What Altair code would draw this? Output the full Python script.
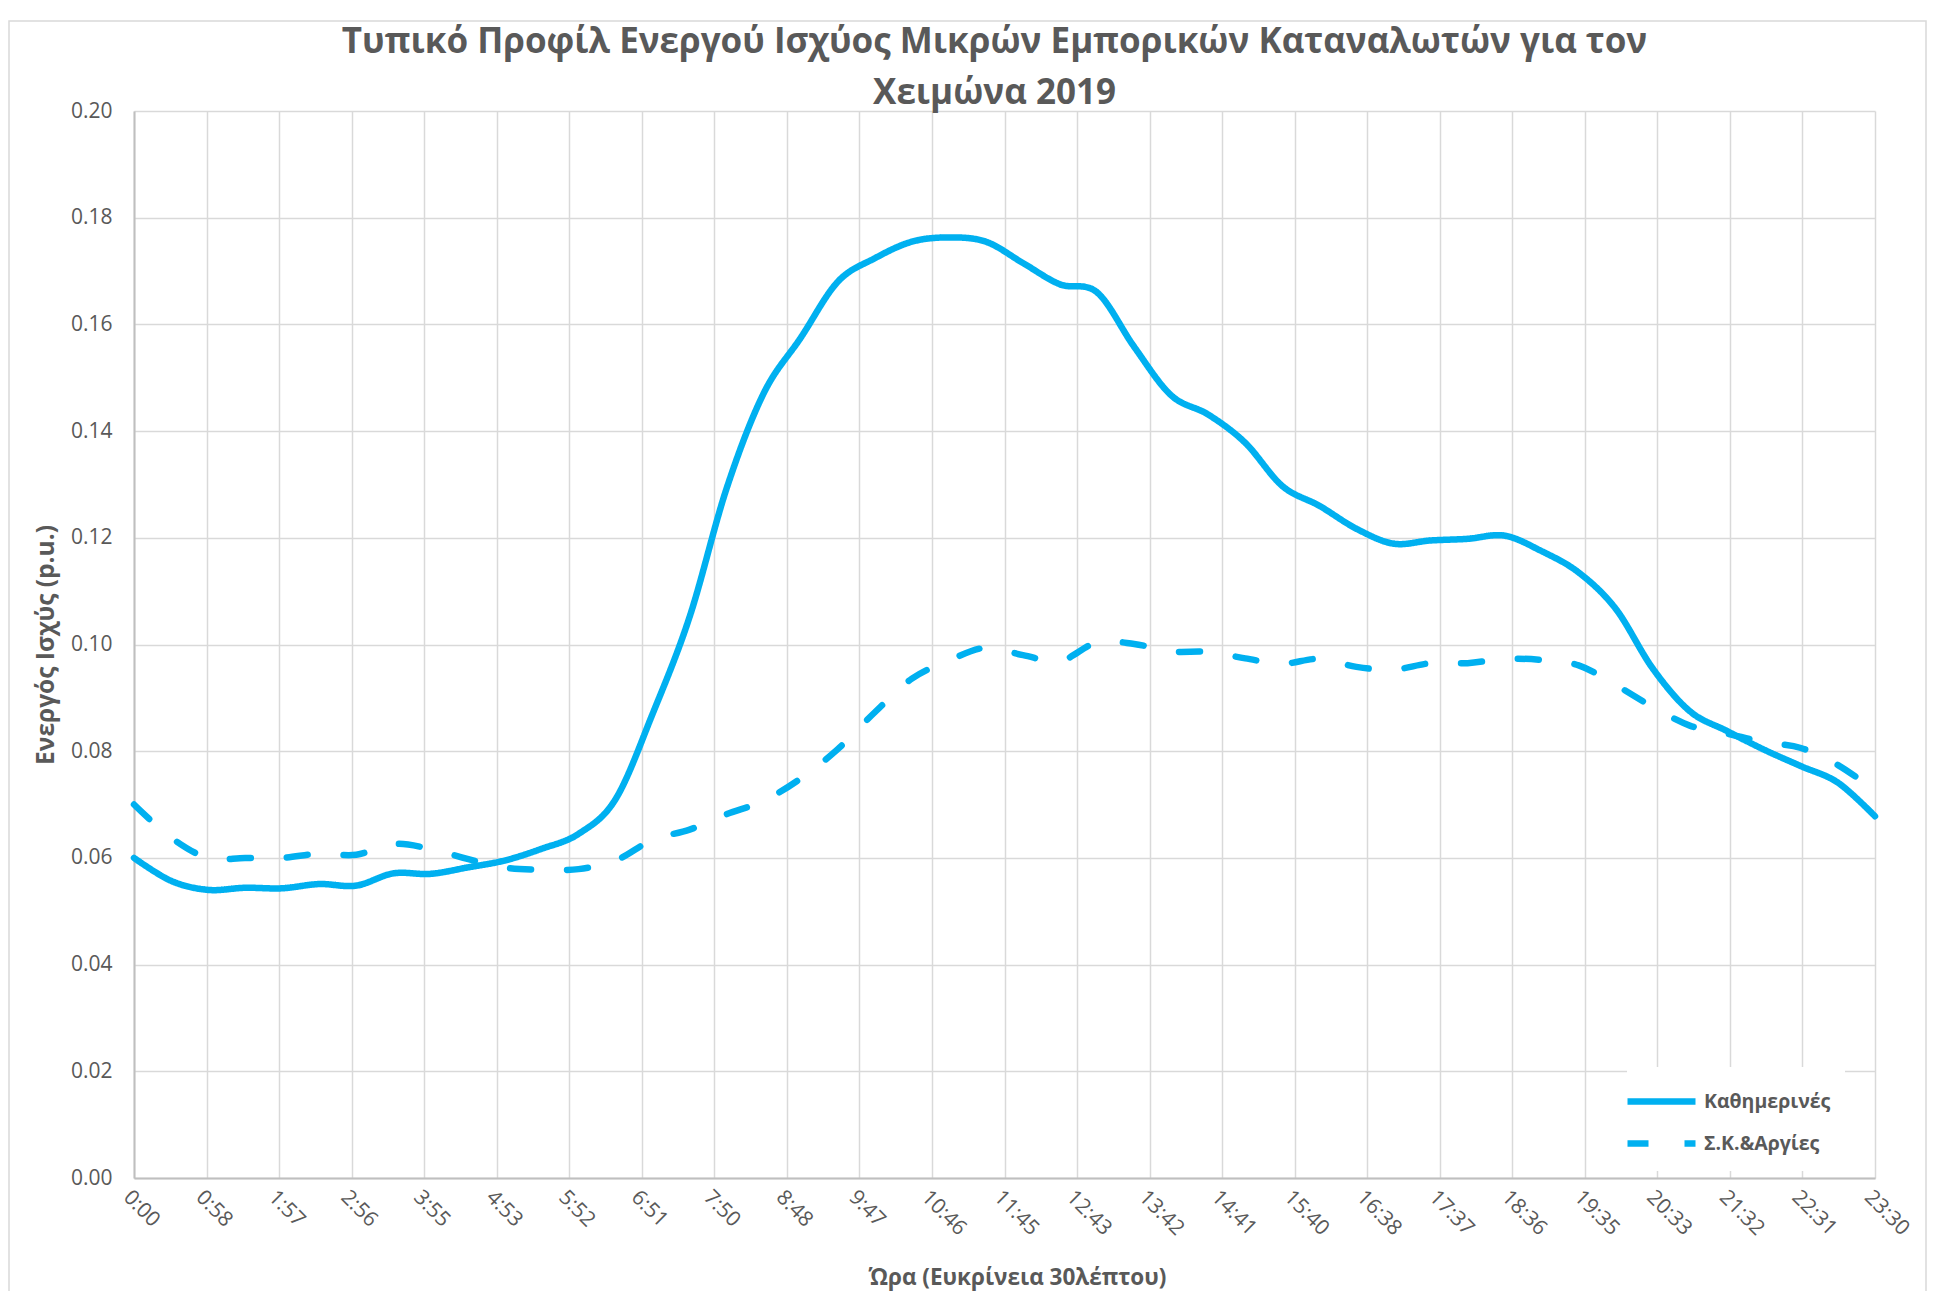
import altair as alt
import pandas as pd

# ---------------- data ----------------
TIMES = [f"{h}:{m:02d}" for h in range(24) for m in (0, 30)]

WEEKDAY = [
    0.0600, 0.0557, 0.0540, 0.0544, 0.0543, 0.0551, 0.0548, 0.0571,
    0.0570, 0.0582, 0.0595, 0.0617, 0.0645, 0.0710, 0.0870, 0.1052,
    0.1293, 0.1471, 0.1575, 0.1680, 0.1724, 0.1755, 0.1763, 0.1755,
    0.1715, 0.1675, 0.1660, 0.1558, 0.1467, 0.1431, 0.1378, 0.1297,
    0.1260, 0.1217, 0.1189, 0.1195, 0.1198, 0.1204, 0.1175, 0.1135,
    0.1067, 0.0955, 0.0875, 0.0838, 0.0803, 0.0772, 0.0741, 0.0678,
]

WEEKEND = [
    0.0700, 0.0638, 0.0600, 0.0600, 0.0600, 0.0608, 0.0606, 0.0626,
    0.0617, 0.0598, 0.0582, 0.0578, 0.0579, 0.0595, 0.0634, 0.0653,
    0.0682, 0.0707, 0.0749, 0.0804, 0.0873, 0.0936, 0.0970, 0.0994,
    0.0980, 0.0969, 0.1004, 0.1001, 0.0987, 0.0986, 0.0974, 0.0964,
    0.0973, 0.0958, 0.0953, 0.0965, 0.0965, 0.0973, 0.0971, 0.0961,
    0.0924, 0.0883, 0.0848, 0.0833, 0.0817, 0.0806, 0.0774, 0.0726,
]

SERIES = ["Καθημερινές", "Σ.Κ.&Αργίες"]

X_TICK_LABELS = [
    "0:00", "0:58", "1:57", "2:56", "3:55", "4:53", "5:52", "6:51", "7:50",
    "8:48", "9:47", "10:46", "11:45", "12:43", "13:42", "14:41", "15:40",
    "16:38", "17:37", "18:36", "19:35", "20:33", "21:32", "22:31", "23:30",
]
Y_TICKS = [0.00, 0.02, 0.04, 0.06, 0.08, 0.10, 0.12, 0.14, 0.16, 0.18, 0.20]

TITLE_LINES = [
    "Τυπικό Προφίλ Ενεργού Ισχύος Μικρών Εμπορικών Καταναλωτών για τον",
    "Χειμώνα 2019",
]
X_TITLE = "Ώρα (Ευκρίνεια 30λέπτου)"
Y_TITLE = "Ενεργός Ισχύς (p.u.)"

# ---------------- table ----------------
def to_min(t):
    h, m = t.split(":")
    return int(h) * 60 + int(m)

rows = []
for name, vals in zip(SERIES, [WEEKDAY, WEEKEND]):
    for t, v in zip(TIMES, vals):
        rows.append({"minute": to_min(t), "value": v, "series": name})
df = pd.DataFrame(rows)

X_MAX = to_min(TIMES[-1])
STEP = X_MAX / (len(X_TICK_LABELS) - 1)
x_tick_values = [i * STEP for i in range(len(X_TICK_LABELS))]
label_expr = "[" + ",".join(f"'{s}'" for s in X_TICK_LABELS) + f"][round(datum.value / {STEP})]"

W, H = 1741, 1067
FONT = "Open Sans"
TXT = "#595959"
BLUE = "#00B0F0"

# ---------------- layers ----------------
frame = alt.Chart(alt.Data(values=[{}])).mark_rect(
    fillOpacity=0, stroke="#d9d9d9", strokeWidth=1.5, clip=False
).encode(
    x=alt.value(-125), x2=alt.value(1792), y=alt.value(-90), y2=alt.value(1200)
)

title = alt.Chart(alt.Data(values=[{}])).mark_text(
    text=TITLE_LINES, font=FONT, fontSize=35, fontWeight="bold", color=TXT,
    align="center", baseline="alphabetic", lineHeight=51,
).encode(x=alt.value(W / 2 - 10), y=alt.value(-58))

legend_kw = dict(
    title=None, orient="none", legendX=1493, legendY=956,
    fillColor="white", padding=14, symbolType="M-2,0L2,0", symbolSize=1156,
    symbolStrokeWidth=6.5, symbolFillColor="transparent",
    labelFont=FONT, labelFontSize=19.5,
    labelFontWeight="bold", labelColor=TXT, labelOffset=22, rowPadding=8,
)

lines = alt.Chart(df).mark_line(
    strokeWidth=6.5, strokeCap="round", interpolate="cardinal"
).encode(
    x=alt.X(
        "minute:Q",
        scale=alt.Scale(domain=[0, X_MAX], nice=False, zero=False),
        axis=alt.Axis(
            values=x_tick_values, labelExpr=label_expr, labelAngle=45,
            labelAlign="left", labelBaseline="top", labelPadding=8,
            labelOverlap=False, labelFlush=False, labelBound=False, ticks=False,
            title=X_TITLE, titleX=883, titleY=99, titleBaseline="middle",
            titleAlign="center",
        ),
    ),
    y=alt.Y(
        "value:Q",
        scale=alt.Scale(domain=[0, 0.2], nice=False),
        axis=alt.Axis(
            values=Y_TICKS, format=".2f", ticks=False, labelPadding=22,
            labelFlush=False, labelOverlap=False,
            title=Y_TITLE, titleX=-88, titleY=H / 2, titleAngle=270,
            titleBaseline="middle", titleAlign="center", titleFontSize=24.5,
        ),
    ),
    color=alt.Color(
        "series:N", scale=alt.Scale(domain=SERIES, range=[BLUE, BLUE]),
        legend=alt.Legend(**legend_kw),
    ),
    strokeDash=alt.StrokeDash(
        "series:N", scale=alt.Scale(domain=SERIES, range=[[1, 0], [21, 36]]),
        legend=alt.Legend(**legend_kw),
    ),
)

chart = alt.layer(frame, lines, title).properties(
    width=W, height=H,
    autosize=alt.AutoSizeParams(type="none"),
    padding={"left": 126, "top": 103, "right": 58, "bottom": 113},
    background="white",
).configure_view(stroke=None).configure_axis(
    labelFont=FONT, labelFontSize=21, labelColor=TXT,
    titleFont=FONT, titleFontSize=22.5, titleFontWeight="bold", titleColor=TXT,
    gridColor="#d9d9d9", gridWidth=1.5,
    domainColor="#bfbfbf", domainWidth=2,
)

chart.save("out.html", embed_options={"renderer": "svg", "actions": False})
